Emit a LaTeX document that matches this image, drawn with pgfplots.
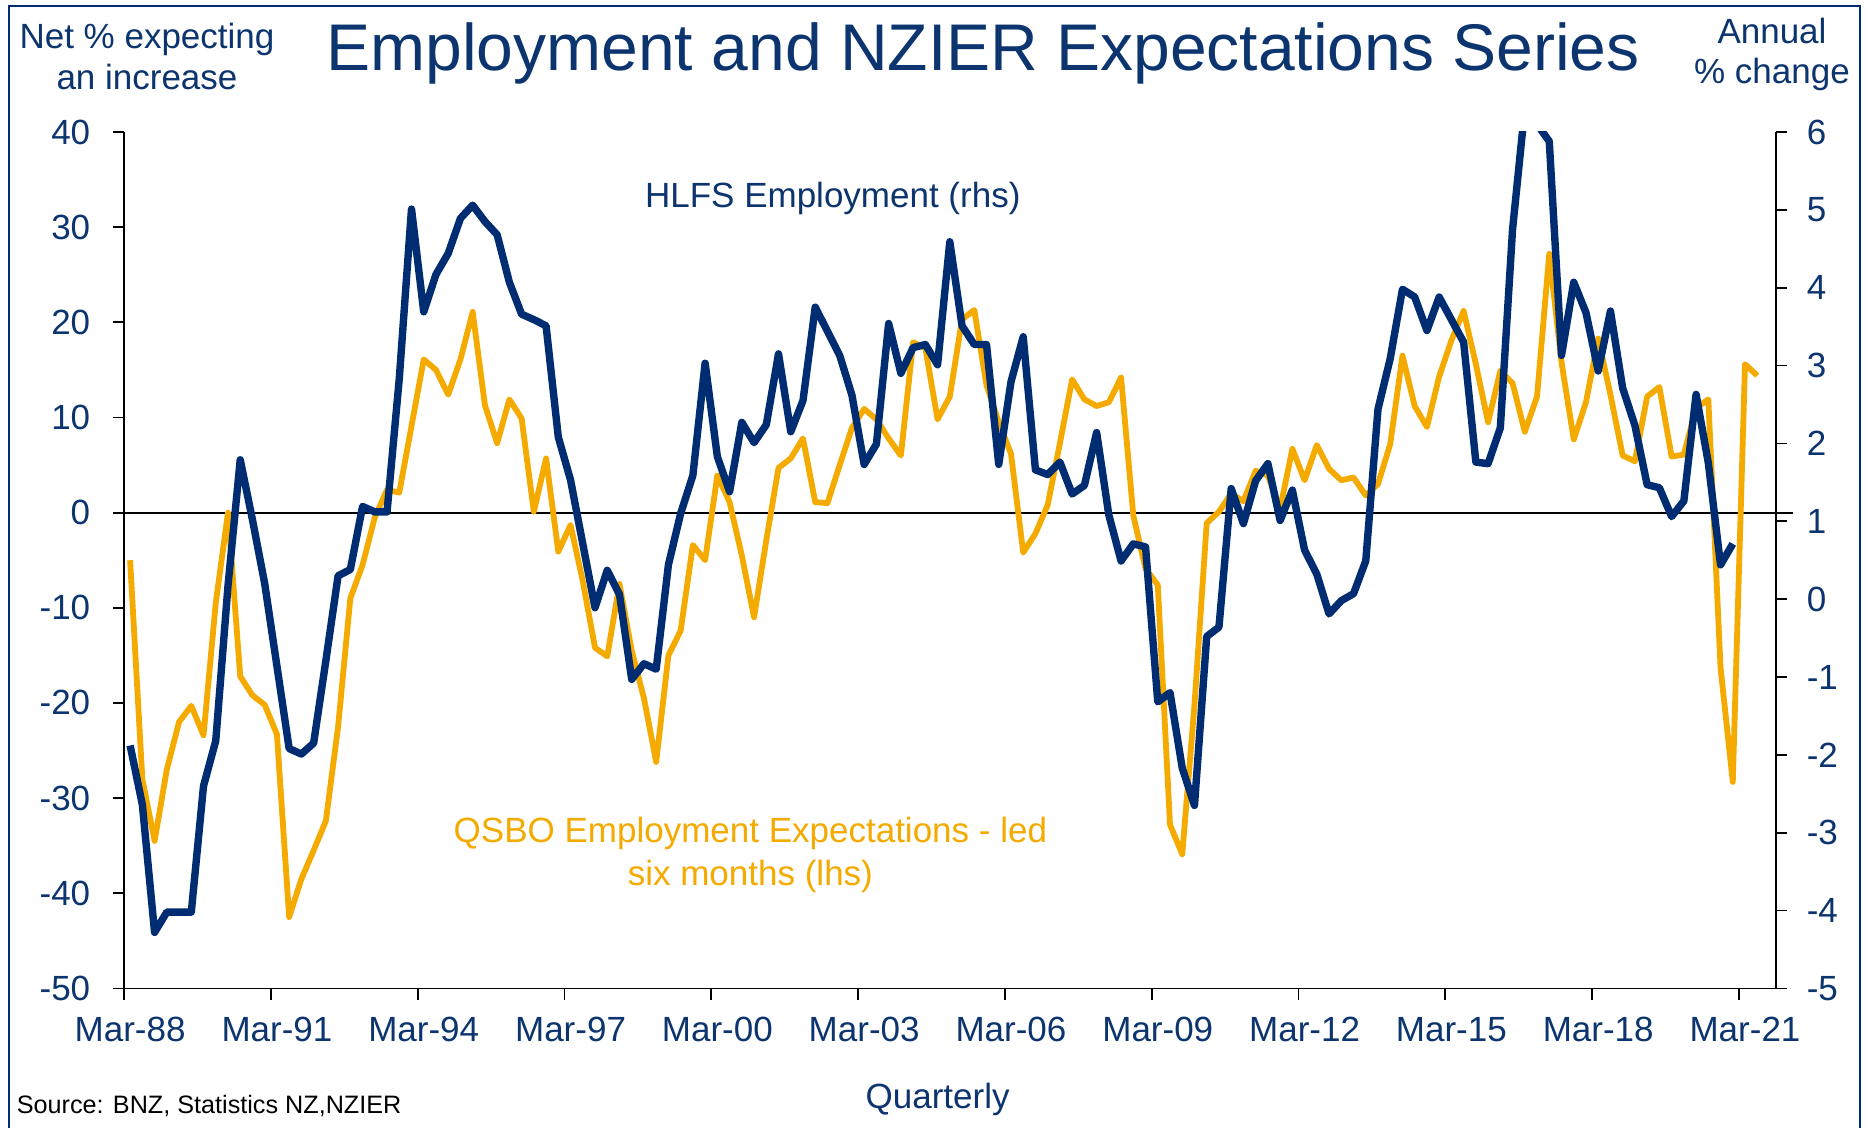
\documentclass[border=0pt]{standalone}
\usepackage{fontspec}
\setmainfont{Liberation Sans}
\usepackage{pgfplots}
\pgfplotsset{compat=1.18}
\usepackage{pgfplotstable}
\definecolor{navy}{RGB}{0,45,114}
\definecolor{navytxt}{RGB}{12,52,110}
\definecolor{qorange}{RGB}{245,170,0}
\newcommand{\fs}{\fontsize{8.75pt}{10.5pt}\selectfont}

\pgfplotstableread{
i v
0 -5
1 -28
2 -34.5
3 -27
4 -22
5 -20.3
6 -23.4
7 -9.5
8 0
9 -17.2
10 -19.2
11 -20.2
12 -23.3
13 -42.5
14 -38.5
15 -35.5
16 -32.4
17 -22.5
18 -9
19 -5.5
20 -0.5
21 2.4
22 2.1
23 9.1
24 16.1
25 15
26 12.4
27 16.1
28 21.1
29 11.3
30 7.3
31 11.9
32 9.9
33 0.1
34 5.7
35 -4.1
36 -1.3
37 -7.2
38 -14.2
39 -15.1
40 -7.5
41 -14.5
42 -19.5
43 -26.2
44 -15
45 -12.4
46 -3.4
47 -5
48 3.9
49 1.1
50 -4.5
51 -11
52 -2.9
53 4.7
54 5.7
55 7.8
56 1.1
57 1
58 5
59 8.9
60 10.9
61 9.8
62 7.8
63 6
64 17.9
65 17.3
66 9.8
67 12.2
68 20.3
69 21.3
70 13.4
71 9.5
72 6.2
73 -4.2
74 -2.2
75 0.8
76 7.3
77 14
78 11.9
79 11.2
80 11.6
81 14.2
82 -0.3
83 -5.9
84 -7.6
85 -32.8
86 -35.9
87 -20.2
88 -1.1
89 0.1
90 2
91 1.2
92 4.4
93 3.9
94 0.4
95 6.7
96 3.4
97 7.1
98 4.6
99 3.4
100 3.7
101 1.8
102 3
103 7.2
104 16.5
105 11.2
106 9
107 14.3
108 18.1
109 21.2
110 15.6
111 9.5
112 14.9
113 13.6
114 8.5
115 12.2
116 27.2
117 15.8
118 7.7
119 11.6
120 18.3
121 12.4
122 6
123 5.4
124 12.2
125 13.2
126 5.9
127 6.1
128 11
129 11.9
130 -16.3
131 -28.3
132 15.6
133 14.4
}\qsbo

\pgfplotstableread{
i r
0 -1.88
1 -2.64
2 -4.28
3 -4.02
4 -4.02
5 -4.02
6 -2.40
7 -1.82
8 0.17
9 1.79
10 1.02
11 0.2
12 -0.86
13 -1.92
14 -1.99
15 -1.85
16 -0.79
17 0.30
18 0.38
19 1.19
20 1.12
21 1.12
22 2.83
23 5.01
24 3.69
25 4.17
26 4.44
27 4.89
28 5.06
29 4.85
30 4.68
31 4.07
32 3.66
33 3.59
34 3.51
35 2.08
36 1.53
37 0.71
38 -0.11
39 0.37
40 0.06
41 -1.03
42 -0.83
43 -0.90
44 0.44
45 1.1
46 1.59
47 3.03
48 1.83
49 1.38
50 2.27
51 2.01
52 2.24
53 3.15
54 2.15
55 2.55
56 3.75
57 3.44
58 3.13
59 2.62
60 1.73
61 1.99
62 3.54
63 2.90
64 3.23
65 3.27
66 3.01
67 4.59
68 3.51
69 3.27
70 3.27
71 1.73
72 2.79
73 3.37
74 1.66
75 1.60
76 1.76
77 1.35
78 1.46
79 2.14
80 1.08
81 0.49
82 0.71
83 0.67
84 -1.32
85 -1.20
86 -2.17
87 -2.65
88 -0.48
89 -0.36
90 1.42
91 0.97
92 1.52
93 1.74
94 1.01
95 1.40
96 0.63
97 0.32
98 -0.19
99 -0.02
100 0.07
101 0.49
102 2.44
103 3.09
104 3.98
105 3.88
106 3.45
107 3.88
108 3.59
109 3.30
110 1.76
111 1.74
112 2.2
113 4.75
114 6.3
115 6.1
116 5.88
117 3.13
118 4.07
119 3.68
120 2.93
121 3.70
122 2.71
123 2.23
124 1.47
125 1.43
126 1.06
127 1.26
128 2.63
129 1.75
130 0.44
131 0.71
}\hlfs

\begin{document}
\begin{tikzpicture}
\useasboundingbox (0,0) rectangle (467pt,282pt);
\fill[white] (0,0) rectangle (467pt,282pt);
\draw[navy, line width=0.5pt] (2.3pt,0) -- (2.3pt,280.5pt) -- (465pt,280.5pt) -- (465pt,0);

\pgfplotsset{base/.style={
  scale only axis, width=412.9pt, height=214.1pt,
  at={(31pt,34.9pt)}, anchor=south west,
  xmin=-0.5, xmax=134.5,
  tick align=outside, major tick length=2.8pt,
  every tick/.style={black, line width=0.45pt},
  ticklabel style={font=\fs, text=navytxt},
  /pgf/number format/assume math mode=true,
  axis line style={black, line width=0.45pt},
}}

\begin{axis}[base, clip=false,
  ymin=-50, ymax=40, ytick={-50,-40,...,40},
  axis y line*=left, axis x line*=bottom,
  xtick={-0.5,11.5,23.5,35.5,47.5,59.5,71.5,83.5,95.5,107.5,119.5,131.5},
  xticklabels={Mar-88,Mar-91,Mar-94,Mar-97,Mar-00,Mar-03,Mar-06,Mar-09,Mar-12,Mar-15,Mar-18,Mar-21},
  xticklabel style={anchor=base, inner sep=0pt, xshift=1.53pt, yshift=-10.5pt},
  yticklabel style={anchor=east, inner sep=0pt, xshift=-5.45pt},
]
\draw[black, line width=0.45pt] ([xshift=-2.8pt]rel axis cs:0,0) -- ([xshift=2.8pt]rel axis cs:1,0);
\draw[black, line width=0.5pt] ([xshift=-0.8pt]axis cs:-0.5,0) -- ([xshift=4.3pt]axis cs:134.5,0);
\addplot[qorange, line width=1.45pt, line join=round] table[x=i,y=v]{\qsbo};
\end{axis}

\begin{axis}[base,
  ymin=-5, ymax=6, ytick={-5,-4,...,6},
  axis y line*=right, axis x line=none, xtick=\empty,
  yticklabel style={anchor=west, inner sep=0pt, xshift=4.8pt},
]
\addplot[navy, line width=1.85pt, line join=round] table[x=i,y=r]{\hlfs};
\end{axis}

\begin{scope}[every node/.style={inner sep=0pt, font=\fs, text=navytxt}]
\node[anchor=base, font=\fontsize{16.5pt}{19pt}\selectfont] at (245.8pt,264.5pt) {Employment and NZIER Expectations Series};
\node[anchor=base] at (36.75pt,269.9pt) {Net \% expecting};
\node[anchor=base] at (36.75pt,259.5pt) {an increase};
\node[anchor=base] at (443pt,271.2pt) {Annual};
\node[anchor=base] at (443pt,261.2pt) {\% change};
\node[anchor=base] at (208.2pt,230pt) {HLFS Employment (rhs)};
\node[anchor=base, text=qorange] at (187.6pt,71.4pt) {QSBO Employment Expectations - led};
\node[anchor=base, text=qorange] at (187.6pt,60.7pt) {six months (lhs)};
\node[anchor=base] at (234.4pt,4.9pt) {Quarterly};
\node[anchor=base west, font=\fontsize{6.3pt}{7.5pt}\selectfont, text=black] at (4pt,3.75pt) {Source: BNZ, Statistics NZ,NZIER};
\end{scope}
\end{tikzpicture}
\end{document}
